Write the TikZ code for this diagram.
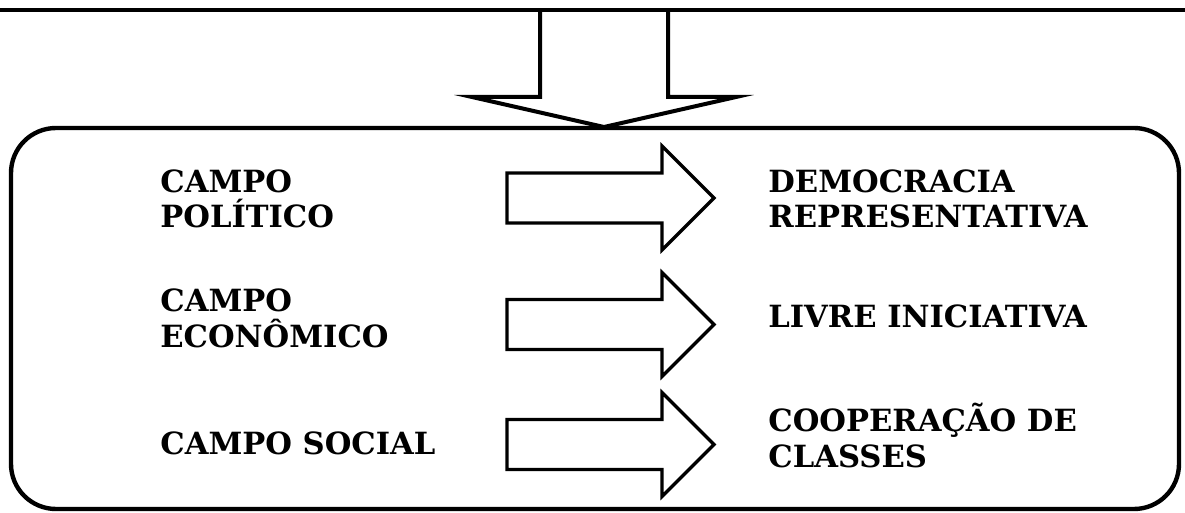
\documentclass[tikz,border=0pt]{standalone}
\usepackage{fontspec}
\setmainfont{DejaVu Serif}
\begin{document}
\begin{tikzpicture}[x=0.5pt,y=-0.5pt,
  lbl/.style={anchor=base west, inner sep=0pt, font=\bfseries\fontsize{15.3}{17.5}\selectfont},
  blk/.style={draw=black, line width=1.6pt, fill=white, line join=miter},
  frame/.style={draw=black, line width=2.2pt}]
\useasboundingbox (0,0) rectangle (1185,513);
% rounded box
\draw[frame, rounded corners=22.5pt] (11,128) rectangle (1179,509);
% down arrow from top line
\draw[blk, line width=2pt] (540,10) -- (540,97) -- (472,97) -- (604,127) -- (736,97) -- (668,97) -- (668,10);
\draw[frame] (0,10) -- (1185,10);
% right block arrows
\foreach \c in {198,324.5,444.5}{
  \draw[blk] (507,\c-25) -- (662,\c-25) -- (662,\c-52) -- (714,\c) -- (662,\c+52) -- (662,\c+25) -- (507,\c+25) -- cycle;
}
% left texts
\node[lbl] (p1) at (160,193) {CAMPO};
\node[lbl] (p2) at (160,228) {POLÍTICO};
\node[lbl] (e1) at (160,312) {CAMPO};
\node[lbl] (e2) at (160,348) {ECONÔMICO};
\node[lbl] (s1) at (160,455) {CAMPO SOCIAL};
% right texts
\node[lbl] (d1) at (768,193) {DEMOCRACIA};
\node[lbl] (d2) at (768,228) {REPRESENTATIVA};
\node[lbl] (li) at (768,328) {LIVRE INICIATIVA};
\node[lbl] (c1) at (768,432) {COOPERAÇÃO DE};
\node[lbl] (c2) at (768,468) {CLASSES};
\end{tikzpicture}
\end{document}
